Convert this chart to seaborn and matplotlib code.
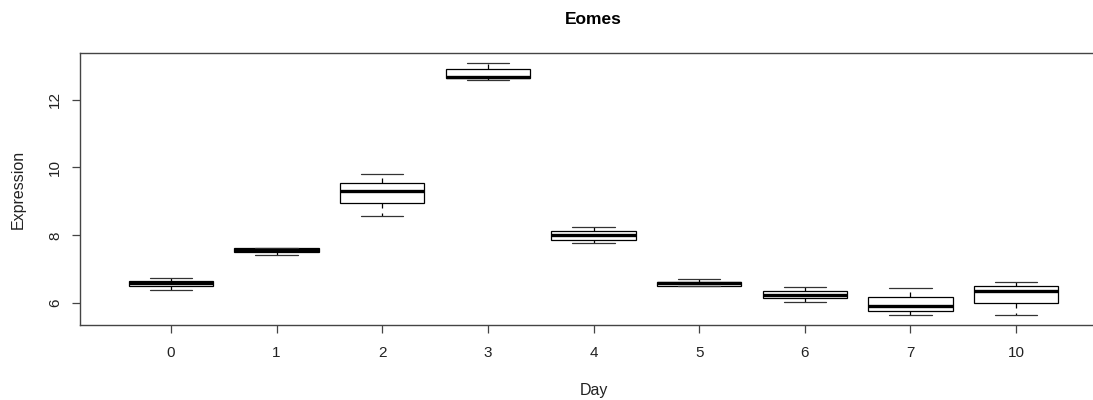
import matplotlib
matplotlib.use("Agg")
import matplotlib.pyplot as plt
import seaborn as sns
import pandas as pd

# Data (five samples per day)
days = ["0", "1", "2", "3", "4", "5", "6", "7", "10"]
s1 = [6.40, 7.42, 8.58, 12.59, 7.78, 6.515, 6.03, 5.65, 5.65]
s2 = [6.51, 7.50, 8.96, 12.64, 7.86, 6.515, 6.135, 5.77, 6.00]
s3 = [6.60, 7.56, 9.32, 12.66, 8.01, 6.585, 6.235, 5.90, 6.35]
s4 = [6.665, 7.62, 9.55, 12.90, 8.12, 6.635, 6.35, 6.17, 6.49]
s5 = [6.735, 7.62, 9.81, 13.08, 8.235, 6.72, 6.46, 6.43, 6.635]

rows = []
for i, d in enumerate(days):
    for s in (s1, s2, s3, s4, s5):
        rows.append({"Day": d, "Expression": s[i]})
df = pd.DataFrame(rows)

sns.set_style("white")
plt.rcParams["font.family"] = ["Liberation Sans", "DejaVu Sans"]

W, H = 1093, 400
fig = plt.figure(figsize=(W / 100, H / 100), dpi=100)
ax = fig.add_axes([80 / W, 1 - 325 / H, (1107 - 80) / W, 272 / H])

sns.boxplot(
    data=df, x="Day", y="Expression", order=days, ax=ax,
    color="white", linecolor="black", linewidth=0.9, width=0.8,
    whis=1.5, fliersize=0,
    whiskerprops=dict(linestyle=(0, (4, 4)), linewidth=0.9, color="black"),
    capprops=dict(linewidth=0.9, color="#333333"),
    medianprops=dict(linewidth=2.4, color="black"),
    boxprops=dict(facecolor="white", edgecolor="black"),
)

ax.set_xlim(-0.86, 8.86)
ax.set_ylim(5.353, 13.377)
ax.set_yticks([6, 8, 10, 12])
ax.set_yticklabels(["6", "8", "10", "12"], rotation=90, va="center")

for sp in ax.spines.values():
    sp.set_visible(True)
    sp.set_color("#444444")
    sp.set_linewidth(1.0)

ax.tick_params(axis="both", which="both", length=6, width=0.9, color="#444444",
               labelsize=11, labelcolor="#222222", direction="out")
ax.tick_params(axis="x", pad=9, bottom=True)
ax.tick_params(axis="y", pad=7, left=True)

ax.set_xlabel("Day", fontsize=11.5, color="#222222", labelpad=17)
ax.set_ylabel("Expression", fontsize=11.5, color="#222222", labelpad=16)
ax.set_title("Eomes", fontsize=12.5, fontweight="bold", color="black", pad=21)
ax.grid(False)

fig.savefig("out.png", dpi=100, facecolor="white")
